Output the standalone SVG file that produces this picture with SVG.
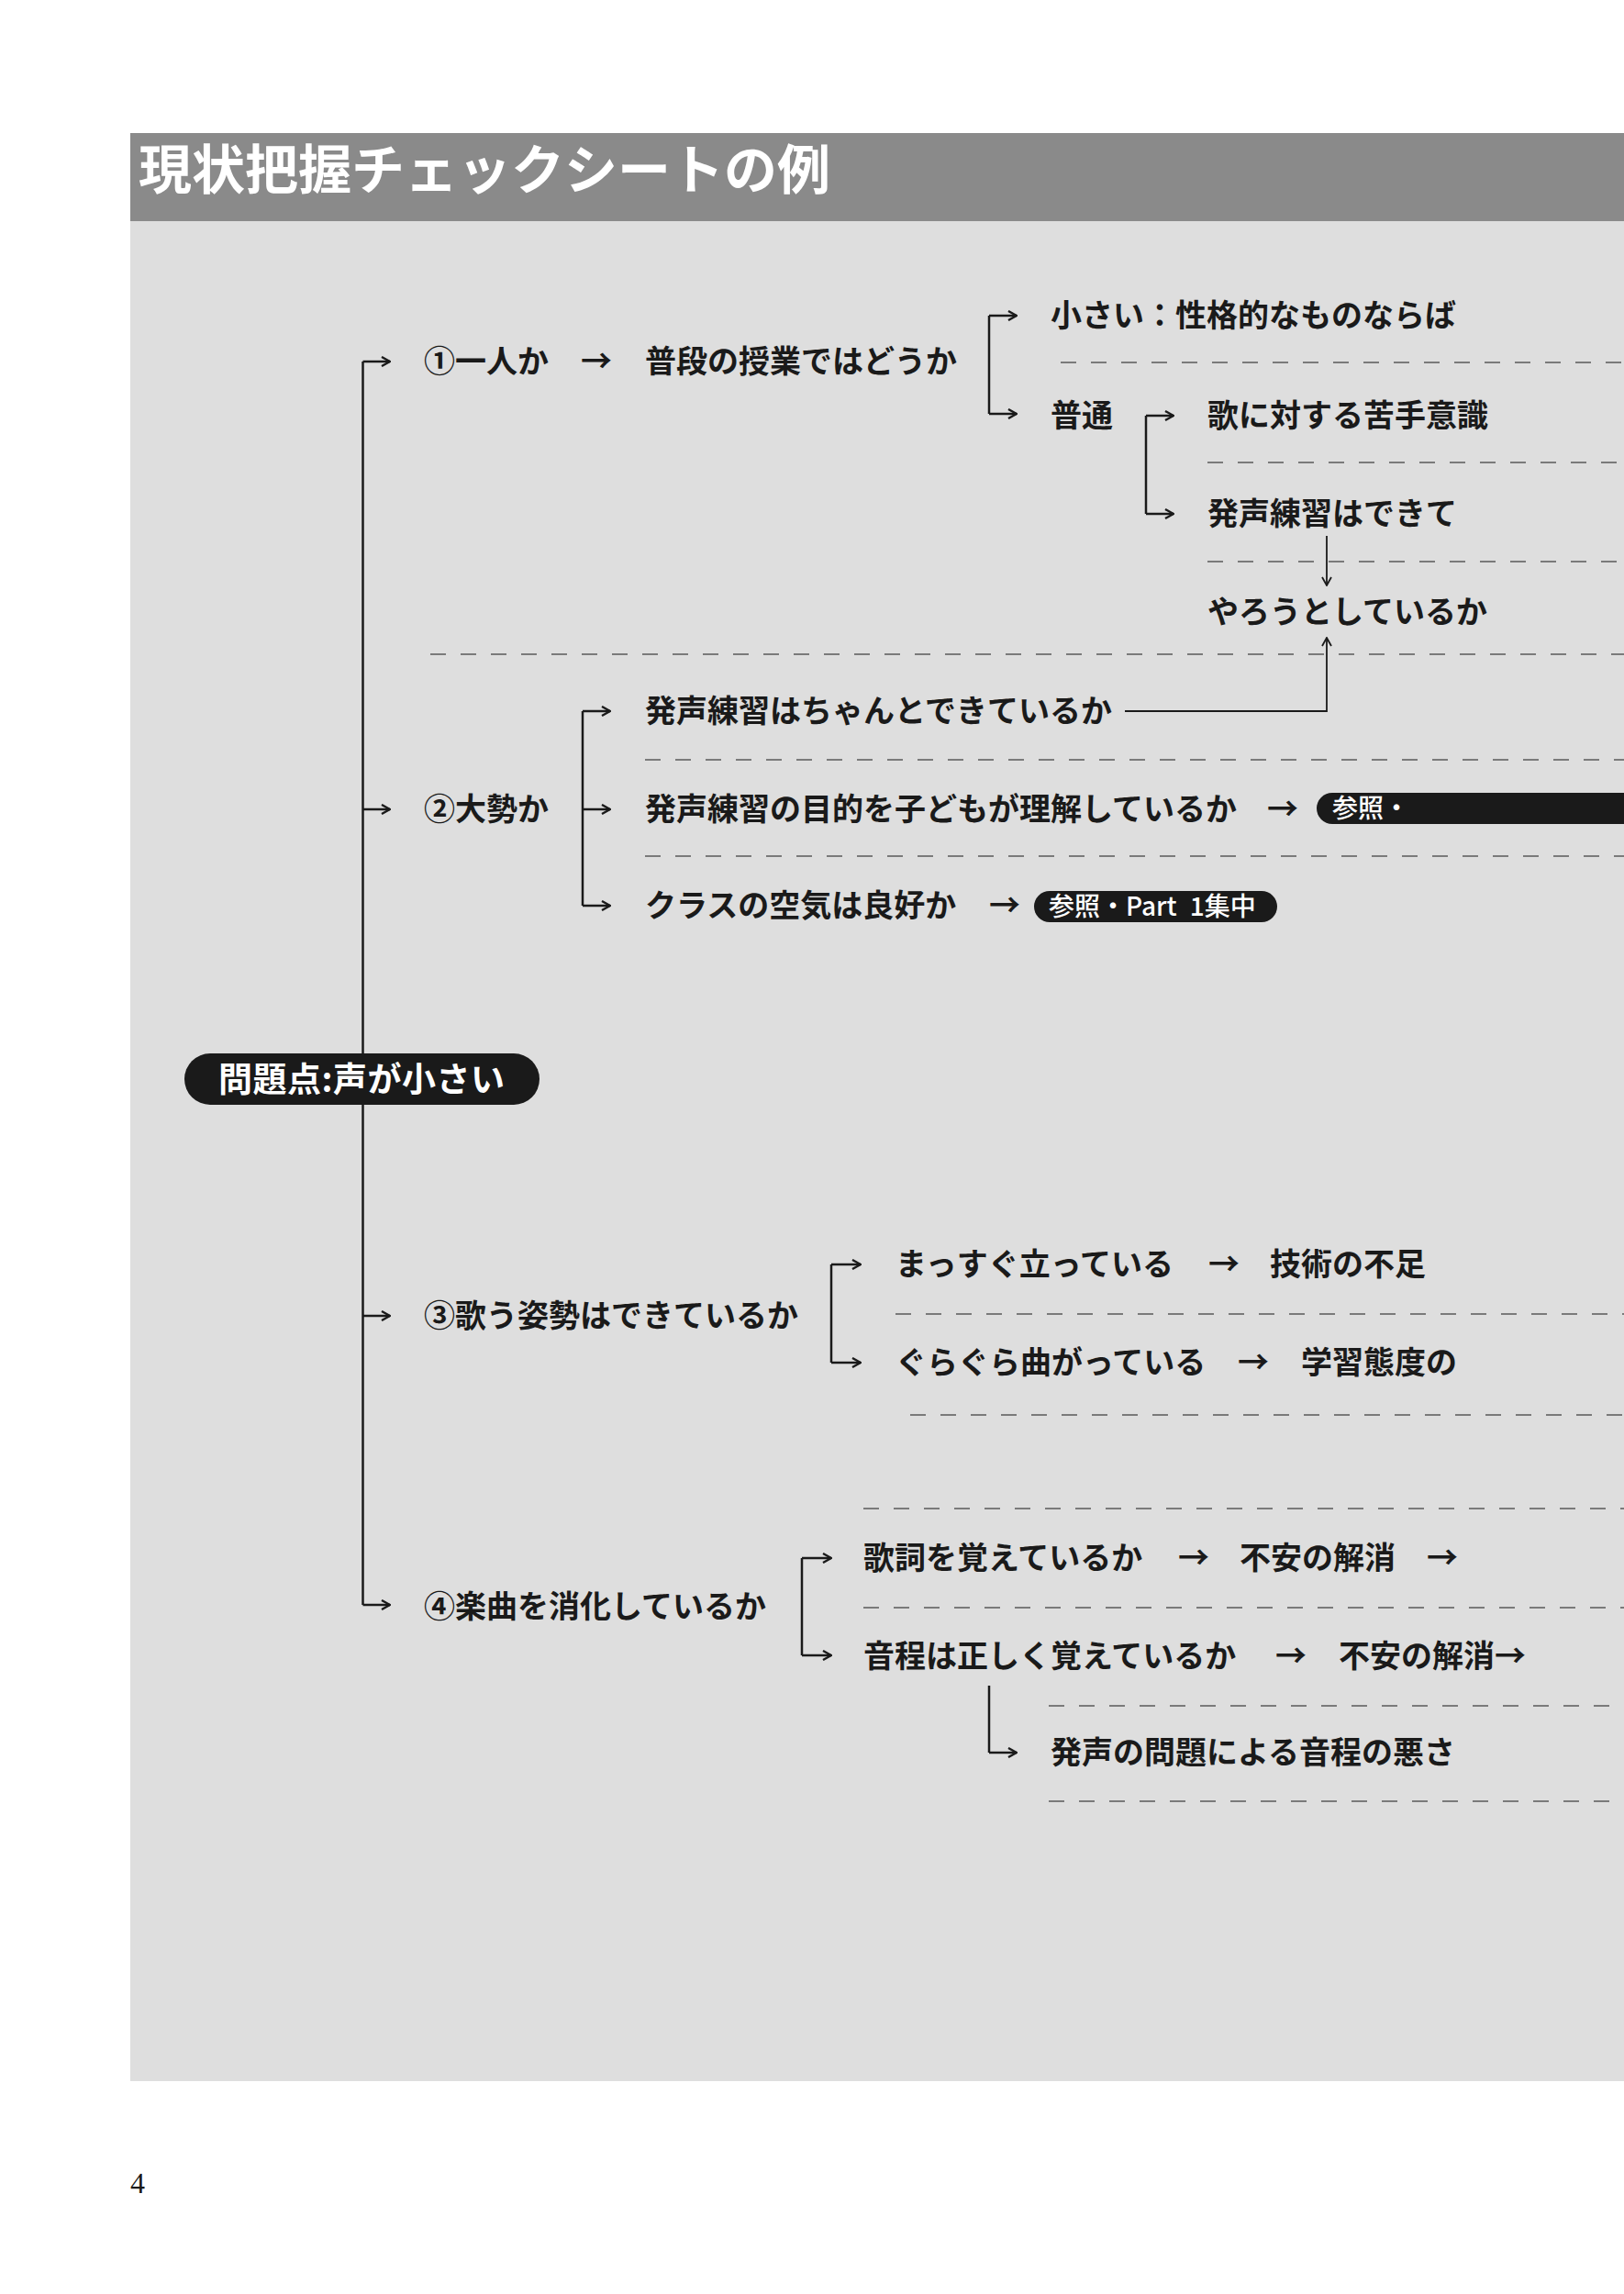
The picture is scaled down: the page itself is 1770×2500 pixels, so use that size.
<svg xmlns="http://www.w3.org/2000/svg" width="1770" height="2500" viewBox="0 0 1770 2500">
<defs>
<marker id="ah" viewBox="0 0 12 12" refX="11" refY="6" markerWidth="12" markerHeight="12" markerUnits="userSpaceOnUse" orient="auto">
<path d="M2,1 L11,6 L2,11" fill="none" stroke="#1a1a1a" stroke-width="2.4"/>
</marker>
<marker id="ahs" viewBox="0 0 12 12" refX="11" refY="6" markerWidth="12" markerHeight="12" markerUnits="userSpaceOnUse" orient="auto">
<path d="M2,1 L11,6 L2,11" fill="none" stroke="#1a1a1a" stroke-width="1.8"/>
</marker>
<style>
.t{font-family:"Noto Sans CJK JP","Noto Sans CJK SC",sans-serif;font-size:34px;font-weight:700;fill:#1a1a1a}
.w{fill:#ffffff}
.p{fill:#1a1a1a}
.br{fill:none;stroke:#1a1a1a;stroke-width:2.5}
.ar{fill:none;stroke:#1a1a1a;stroke-width:2.5;marker-end:url(#ah)}
.thin{fill:none;stroke:#1a1a1a;stroke-width:1.8;marker-end:url(#ahs)}
.dash{fill:none;stroke:#7a7a7a;stroke-width:2;stroke-dasharray:17 16}
.pt{font-size:28px;font-weight:500}
</style>
</defs>
<rect x="0" y="0" width="1770" height="2500" fill="#ffffff"/>
<rect x="142" y="241" width="1628" height="2027" fill="#dedede"/>
<rect x="142" y="145" width="1628" height="96" fill="#8a8a8a"/>
<text x="151" y="206" class="t w" style="font-size:58px">現状把握チェックシートの例</text>

<g id="dashes">
<line class="dash" x1="1156" y1="395" x2="1770" y2="395"/>
<line class="dash" x1="1316" y1="504" x2="1770" y2="504"/>
<line class="dash" x1="1316" y1="612" x2="1770" y2="612"/>
<line class="dash" x1="469" y1="713" x2="1770" y2="713"/>
<line class="dash" x1="703" y1="828" x2="1770" y2="828"/>
<line class="dash" x1="703" y1="933" x2="1770" y2="933"/>
<line class="dash" x1="976" y1="1432" x2="1770" y2="1432"/>
<line class="dash" x1="992" y1="1542" x2="1770" y2="1542"/>
<line class="dash" x1="941" y1="1644" x2="1770" y2="1644"/>
<line class="dash" x1="941" y1="1752" x2="1770" y2="1752"/>
<line class="dash" x1="1143" y1="1859" x2="1770" y2="1859"/>
<line class="dash" x1="1143" y1="1963" x2="1770" y2="1963"/>
</g>

<g id="connectors">
<path class="br" d="M395.5,394 V1749"/>
<path class="ar" d="M395.5,394 H425"/>
<path class="ar" d="M395.5,882 H425"/>
<path class="ar" d="M395.5,1434 H425"/>
<path class="ar" d="M395.5,1749 H425"/>
<path class="br" d="M1078,344 V451"/>
<path class="ar" d="M1078,344 H1108"/>
<path class="ar" d="M1078,451 H1108"/>
<path class="br" d="M1249,453 V560"/>
<path class="ar" d="M1249,453 H1279"/>
<path class="ar" d="M1249,560 H1279"/>
<path class="thin" d="M1446,584 V638"/>
<path class="thin" d="M1226,775 H1446 V695"/>
<path class="br" d="M635,775 V987"/>
<path class="ar" d="M635,775 H665"/>
<path class="ar" d="M635,882 H665"/>
<path class="ar" d="M635,987 H665"/>
<path class="br" d="M906,1378 V1485"/>
<path class="ar" d="M906,1378 H938"/>
<path class="ar" d="M906,1485 H938"/>
<path class="br" d="M874,1698 V1804"/>
<path class="ar" d="M874,1698 H906"/>
<path class="ar" d="M874,1804 H906"/>
<path class="br" d="M1078,1837 V1910"/>
<path class="ar" d="M1078,1910 H1108"/>
</g>

<g id="root">
<rect x="201" y="1148" width="387" height="56" rx="28" class="p"/>
<text x="238" y="1190" class="t w" style="font-size:37px;letter-spacing:0.5px">問題点:声が小さい</text>
</g>

<g id="n1"><text x="462" y="406" class="t">①一人か</text></g>
<g id="a1"><text x="633" y="406" class="t">→</text></g>
<g id="n1a"><text x="703" y="406" class="t">普段の授業ではどうか</text></g>
<g id="n1a1"><text x="1145" y="356" class="t">小さい：性格的なものならば</text></g>
<g id="n1a2"><text x="1145" y="465" class="t">普通</text></g>
<g id="n1a2a"><text x="1316" y="465" class="t">歌に対する苦手意識</text></g>
<g id="n1a2b"><text x="1316" y="572" class="t">発声練習はできて</text></g>
<g id="n1a2c"><text x="1316" y="679" class="t">やろうとしているか</text></g>

<g id="n2"><text x="462" y="894" class="t">②大勢か</text></g>
<g id="n2a"><text x="703" y="787" class="t">発声練習はちゃんとできているか</text></g>
<g id="n2b">
<text x="703" y="894" class="t">発声練習の目的を子どもが理解しているか</text>
<text x="1381" y="894" class="t">→</text>
<rect x="1435" y="864" width="400" height="34" rx="17" class="p"/>
<text x="1452" y="891" class="t w pt">参照・</text>
</g>
<g id="n2c">
<text x="703" y="999" class="t">クラスの空気は良好か</text>
<text x="1078" y="999" class="t">→</text>
<rect x="1127" y="971" width="265" height="34" rx="17" class="p"/>
<text x="1143" y="998" class="t w pt">参照・Part<tspan dx="8"> 1集中</tspan></text>
</g>

<g id="n3"><text x="462" y="1446" class="t">③歌う姿勢はできているか</text></g>
<g id="n3a">
<text x="976" y="1390" class="t">まっすぐ立っている</text>
<text x="1317" y="1390" class="t">→</text>
<text x="1384" y="1390" class="t">技術の不足</text>
</g>
<g id="n3b">
<text x="976" y="1497" class="t">ぐらぐら曲がっている</text>
<text x="1349" y="1497" class="t">→</text>
<text x="1418" y="1497" class="t">学習態度の</text>
</g>

<g id="n4"><text x="462" y="1763" class="t">④楽曲を消化しているか</text></g>
<g id="n4a">
<text x="941" y="1710" class="t">歌詞を覚えているか</text>
<text x="1284" y="1710" class="t">→</text>
<text x="1351" y="1710" class="t">不安の解消</text>
<text x="1555" y="1710" class="t">→</text>
</g>
<g id="n4b">
<text x="941" y="1817" class="t">音程は正しく覚えているか</text>
<text x="1390" y="1817" class="t">→</text>
<text x="1459" y="1817" class="t">不安の解消→</text>
</g>
<g id="n4b1"><text x="1145" y="1922" class="t">発声の問題による音程の悪さ</text></g>

<text x="142" y="2390" style="font-family:'Liberation Serif',serif;font-size:32px;fill:#1a1a1a">4</text>
</svg>
